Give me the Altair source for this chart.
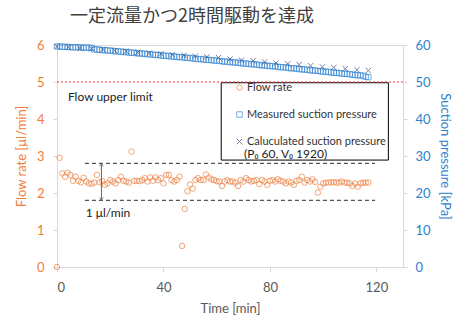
import altair as alt
import pandas as pd

title_text = "一定流量かつ2時間駆動を達成"

flow_time = list(range(118))
flow_values = [
    0.00, 2.95, 2.53, 2.44, 2.55, 2.49, 2.33, 2.44, 2.33, 2.29,
    2.41, 2.31, 2.26, 2.25, 2.28, 2.49, 2.29, 2.32, 2.22, 2.26,
    2.35, 2.31, 2.26, 2.35, 2.44, 2.33, 2.31, 2.28, 3.12, 2.33,
    2.33, 2.32, 2.35, 2.40, 2.31, 2.42, 2.33, 2.42, 2.35, 2.40,
    2.26, 2.49, 2.49, 2.35, 2.31, 2.35, 2.44, 0.57, 1.57, 2.05,
    2.23, 2.12, 2.35, 2.40, 2.35, 2.35, 2.50, 2.42, 2.37, 2.35,
    2.32, 2.31, 2.19, 2.31, 2.35, 2.31, 2.31, 2.28, 2.19, 2.35,
    2.31, 2.40, 2.35, 2.31, 2.33, 2.35, 2.24, 2.35, 2.31, 2.22,
    2.33, 2.35, 2.31, 2.37, 2.33, 2.31, 2.26, 2.31, 2.28, 2.22,
    2.33, 2.35, 2.44, 2.28, 2.35, 2.31, 2.37, 2.30, 2.01, 2.17,
    2.26, 2.28, 2.28, 2.29, 2.29, 2.28, 2.28, 2.31, 2.28, 2.28,
    2.26, 2.19, 2.26, 2.17, 2.26, 2.28, 2.28, 2.28,
]

meas_time = list(range(118))
meas_values = [
    59.6, 59.6, 59.5, 59.5, 59.5, 59.4, 59.4, 59.4, 59.4, 59.3,
    59.3, 59.3, 59.3, 59.2, 58.8, 58.8, 58.7, 58.6, 58.6, 58.5,
    58.5, 58.4, 58.3, 58.3, 58.2, 58.1, 58.1, 58.0, 57.9, 57.9,
    57.8, 57.7, 57.7, 57.6, 57.5, 57.5, 57.4, 57.3, 57.3, 57.2,
    57.1, 57.1, 57.0, 56.9, 56.9, 56.8, 56.7, 56.7, 56.6, 56.5,
    56.5, 56.4, 56.3, 56.2, 56.2, 56.1, 56.0, 56.0, 55.9, 55.8,
    55.8, 55.7, 55.6, 55.5, 55.5, 55.4, 55.3, 55.3, 55.2, 55.1,
    55.0, 55.0, 54.9, 54.8, 54.8, 54.7, 54.6, 54.5, 54.5, 54.4,
    54.3, 54.3, 54.2, 54.1, 54.0, 54.0, 53.9, 53.8, 53.7, 53.7,
    53.6, 53.5, 53.4, 53.4, 53.3, 53.2, 53.1, 53.1, 53.0, 52.9,
    52.8, 52.8, 52.7, 52.6, 52.5, 52.5, 52.4, 52.3, 52.2, 52.2,
    52.1, 52.0, 51.9, 51.8, 51.8, 51.7, 51.4, 51.3,
]

calc_time = [0, 4.3, 8.7, 13, 17.3, 21.7, 26, 30.3, 34.7, 39, 43.3, 47.7, 52, 56.3,
             60.7, 65, 69.3, 73.7, 78, 82.3, 86.7, 91, 95.3, 99.7, 104, 108.3, 112.7, 117]
calc_values = [59.6, 59.4, 59.2, 59.0, 58.8, 58.5, 58.3, 58.0, 57.8, 57.6, 57.4, 57.2, 57.0, 56.8,
               56.6, 56.2, 55.9, 55.7, 55.4, 55.1, 54.9, 54.7, 54.4, 54.1, 53.9, 53.6, 53.3, 53.1]

series_names = ["Flow rate", "Measured suction pressure", "Caluculated suction pressure"]
series_colors = ["#F07D3A", "#3A8BD6", "#2E4C86"]
series_shapes = ["circle", "square", "M-1,-1L1,1M-1,1L1,-1"]

x_ticks = [0, 40, 80, 120]
flow_ticks = [0, 1, 2, 3, 4, 5, 6]
press_ticks = [0, 10, 20, 30, 40, 50, 60]

flow_limit = [5]
band_levels = [2.8, 1.8]
band_span = [10.5, 119.5]
arrow_t = [16.7]
legend_box = {"t0": [61.7], "t1": [124.5], "v0": [4.98], "v1": [2.89]}
notes = {"t": [4.1, 10.8, 70.3], "v": [4.59, 1.46, 3.05],
         "txt": ["Flow upper limit", "1 μl/min", "(P₀ 60, V₀ 1920)"]}

ORANGE = "#F07D3A"
BLUE = "#2F80CC"
GRAY = "#595959"
FONT = "Lato"

flow_df = pd.DataFrame({"t": flow_time, "v": flow_values, "s": series_names[0]})
press_df = pd.concat([
    pd.DataFrame({"t": meas_time, "p": meas_values, "s": series_names[1]}),
    pd.DataFrame({"t": calc_time, "p": calc_values, "s": series_names[2]}),
])

x_scale = alt.Scale(domain=[0, 130], nice=False)
y_flow = alt.Scale(domain=[0, 6], nice=False)
y_press = alt.Scale(domain=[0, 60], nice=False)

X_TITLE = "Time [min]"
Y_TITLE = "Flow rate [μl/min]"
x_axis = alt.Axis(values=x_ticks, labelColor=GRAY, titleColor=GRAY, labelFontSize=13,
                  titleFontSize=13, tickSize=5, labelPadding=9, titlePadding=8)
y_axis = alt.Axis(orient="left", values=flow_ticks, labelColor=ORANGE, titleColor=ORANGE,
                  labelFontSize=13, titleFontSize=13, tickSize=4, labelPadding=9, titlePadding=8)


def X(field):
    return alt.X(field, type="quantitative", scale=x_scale, axis=x_axis, title=X_TITLE)


def Y(field):
    return alt.Y(field, type="quantitative", scale=y_flow, axis=y_axis, title=Y_TITLE)


legend = alt.Legend(title=None, orient="none", legendX=177, legendY=37, padding=0,
                    rowPadding=15, labelFont=FONT, labelFontSize=11, labelColor="#333333",
                    symbolSize=30, symbolStrokeWidth=1, labelOffset=2)
color = alt.Color("s:N", scale=alt.Scale(domain=series_names, range=series_colors), legend=legend)
shape = alt.Shape("s:N", scale=alt.Scale(domain=series_names, range=series_shapes), legend=legend)

flow = alt.Chart(flow_df).mark_point(filled=False, size=30, strokeWidth=1).encode(
    x=X("t"), y=Y("v"), color=color, shape=shape)

box = alt.Chart(pd.DataFrame(legend_box)).mark_rect(fill="white", stroke="black", strokeWidth=1).encode(
    x=X("t0"), x2="t1:Q", y=Y("v0"), y2="v1:Q")

limit = alt.Chart(pd.DataFrame({"v": flow_limit})).mark_rule(
    color="#FF3333", strokeDash=[2, 2], strokeWidth=1).encode(y=Y("v"))

band = alt.Chart(pd.DataFrame({"v": band_levels, "t0": band_span[0], "t1": band_span[1]})).mark_rule(
    color="#555555", strokeDash=[4, 3], strokeWidth=1.2).encode(
    x=X("t0"), x2="t1:Q", y=Y("v"))

arrow_df = pd.DataFrame({"t": arrow_t, "v0": [band_levels[0]], "v1": [band_levels[1]]})
arrow_line = alt.Chart(arrow_df).mark_rule(color="#666666", strokeWidth=1).encode(
    x=X("t"), y=Y("v0"), y2="v1:Q")
arrow_up = alt.Chart(arrow_df).mark_point(
    shape="M-0.6,1L0,0L0.6,1", filled=False, color="#666666", size=40, strokeWidth=1).encode(
    x=X("t"), y=Y("v0"))
arrow_dn = alt.Chart(arrow_df).mark_point(
    shape="M-0.6,-1L0,0L0.6,-1", filled=False, color="#666666", size=40, strokeWidth=1).encode(
    x=X("t"), y=Y("v1"))

note_text = alt.Chart(pd.DataFrame(notes)).mark_text(
    align="left", baseline="middle", font=FONT, fontSize=12, color="#222222").encode(
    x=X("t"), y=Y("v"), text="txt:N")

press = alt.Chart(press_df).mark_point(filled=False, size=28, strokeWidth=1).encode(
    x=X("t"),
    y=alt.Y("p:Q", scale=y_press, title="Suction pressure [kPa]",
            axis=alt.Axis(orient="right", values=press_ticks, labelColor=BLUE,
                          titleColor=BLUE, labelFontSize=13, titleFontSize=13, tickSize=4,
                          labelPadding=8, titlePadding=7)),
    color=color, shape=shape)

left = alt.layer(flow, box, limit, band, arrow_line, arrow_up, arrow_dn, note_text)

chart = alt.layer(left, press).resolve_scale(y="independent").properties(
    width=346, height=222,
    title=alt.Title(title_text, font="Noto Sans CJK JP", fontSize=18, fontWeight="normal",
                    color="#404040", anchor="start", frame="group", dx=13, offset=13),
    autosize=alt.AutoSizeParams(type="none"),
    padding={"left": 57, "top": 45, "right": 70, "bottom": 56},
).configure_view(stroke="#D9D9D9").configure_axis(
    domainColor="#D9D9D9", tickColor="#D9D9D9", grid=False,
    labelFont=FONT, titleFont=FONT, titleFontWeight="normal")

chart.save("out.html", embed_options={"renderer": "svg", "actions": False})
